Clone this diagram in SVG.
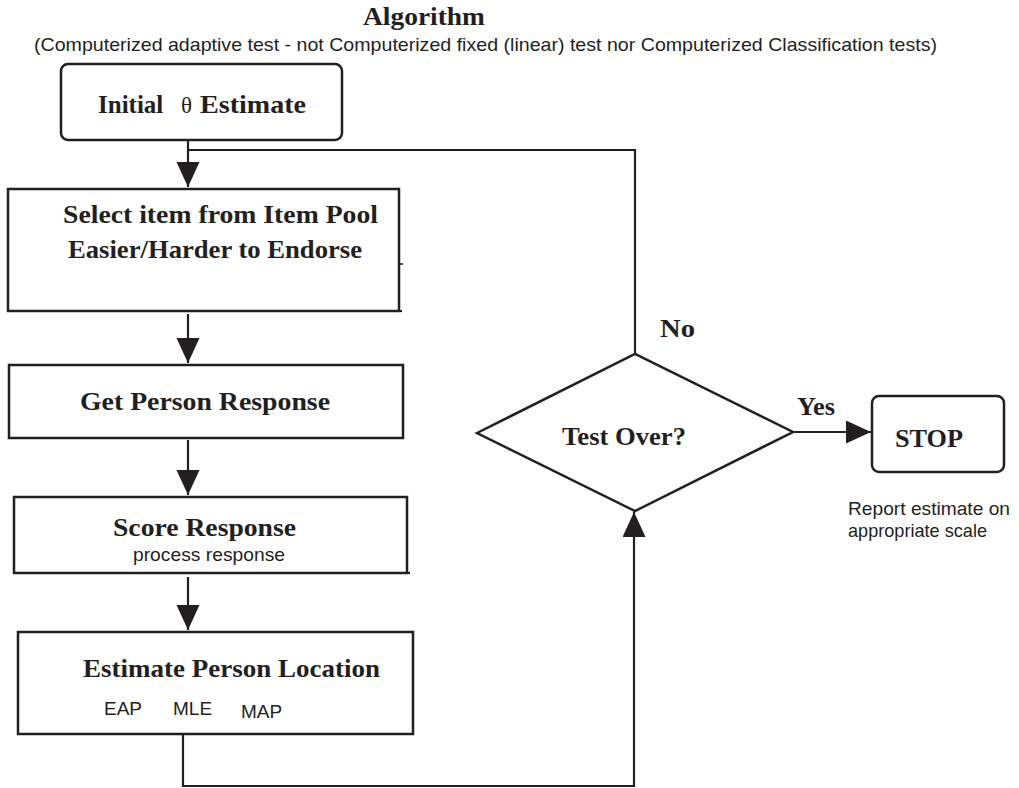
<svg xmlns="http://www.w3.org/2000/svg" width="1019" height="788" viewBox="0 0 1019 788">
<style>
.box{fill:#fff;stroke:#231f20;stroke-width:2.5}
.ln{fill:none;stroke:#231f20;stroke-width:2.2}
.sb{font-family:"Liberation Serif","Times New Roman",serif;font-weight:bold;font-size:25px;fill:#231f20}
.ss{font-family:"Liberation Sans",Arial,sans-serif;font-size:19px;fill:#231f20}
</style>
<defs>
<marker id="ah" markerUnits="userSpaceOnUse" markerWidth="26" markerHeight="24" refX="25" refY="11.5" orient="auto">
<path d="M0,0 L25,11.5 L0,23 Z" fill="#231f20"/>
</marker>
</defs>
<rect width="1019" height="788" fill="#fff"/>
<g id="title">
<text class="sb" x="363" y="25" textLength="122" lengthAdjust="spacingAndGlyphs">Algorithm</text>
<text class="ss" x="34" y="51" textLength="903" lengthAdjust="spacingAndGlyphs">(Computerized adaptive test - not Computerized fixed (linear) test nor Computerized Classification tests)</text>
</g>
<g id="connectors">
<line class="ln" x1="188" y1="140" x2="188" y2="187" marker-end="url(#ah)"/>
<polyline class="ln" points="188,150 635,150 635,355"/>
<line class="ln" x1="188" y1="314" x2="188" y2="363" marker-end="url(#ah)"/>
<line class="ln" x1="188" y1="440" x2="188" y2="495" marker-end="url(#ah)"/>
<line class="ln" x1="188" y1="577" x2="188" y2="630" marker-end="url(#ah)"/>
<polyline class="ln" points="183,734 183,786 634,786 634,512" marker-end="url(#ah)"/>
<line class="ln" x1="793" y1="432" x2="871" y2="432" marker-end="url(#ah)"/>
</g>
<g id="initial">
<rect class="box" x="61" y="64" width="281" height="76" rx="7"/>
<text class="sb" x="98" y="113">Initial</text>
<text class="sb" x="181" y="113" style="font-weight:normal;font-size:23px">θ</text>
<text class="sb" x="200" y="113" textLength="106" lengthAdjust="spacingAndGlyphs">Estimate</text>
</g>
<g id="select">
<rect class="box" x="8" y="189" width="391" height="122"/>
<line class="ln" x1="399" y1="311" x2="402" y2="311"/>
<line x1="400" y1="264" x2="403" y2="264" stroke="#231f20" stroke-width="1.5"/>
<text class="sb" x="63" y="223" textLength="315" lengthAdjust="spacingAndGlyphs">Select item from Item Pool</text>
<text class="sb" x="68" y="258" textLength="294" lengthAdjust="spacingAndGlyphs">Easier/Harder to Endorse</text>
</g>
<g id="get-response">
<rect class="box" x="9" y="365" width="394" height="73"/>
<text class="sb" x="80" y="410" textLength="250" lengthAdjust="spacingAndGlyphs">Get Person Response</text>
</g>
<g id="score">
<rect class="box" x="14" y="497" width="393" height="76"/>
<line class="ln" x1="407" y1="573" x2="410" y2="573"/>
<text class="sb" x="113" y="536" textLength="183" lengthAdjust="spacingAndGlyphs">Score Response</text>
<text class="ss" x="133" y="561" textLength="152" lengthAdjust="spacingAndGlyphs">process response</text>
</g>
<g id="estimate">
<rect class="box" x="18" y="632" width="395" height="102"/>
<text class="sb" x="83" y="677" textLength="297" lengthAdjust="spacingAndGlyphs">Estimate Person Location</text>
<text class="ss" x="104" y="715">EAP</text>
<text class="ss" x="173" y="715">MLE</text>
<text class="ss" x="241" y="718">MAP</text>
</g>
<g id="decision">
<polygon class="box" points="477,433 635,354 793,432 635,511"/>
<text class="sb" x="562" y="445" textLength="124" lengthAdjust="spacingAndGlyphs">Test Over?</text>
<text class="sb" x="660" y="337" textLength="35" lengthAdjust="spacingAndGlyphs">No</text>
<text class="sb" x="797" y="415" textLength="38" lengthAdjust="spacingAndGlyphs">Yes</text>
</g>
<g id="stop">
<rect class="box" x="872" y="396" width="132" height="76" rx="7"/>
<text class="sb" x="895" y="447" textLength="68" lengthAdjust="spacingAndGlyphs">STOP</text>
<text class="ss" x="848" y="515" textLength="162" lengthAdjust="spacingAndGlyphs">Report estimate on</text>
<text class="ss" x="848" y="537" textLength="139" lengthAdjust="spacingAndGlyphs">appropriate scale</text>
</g>
</svg>
